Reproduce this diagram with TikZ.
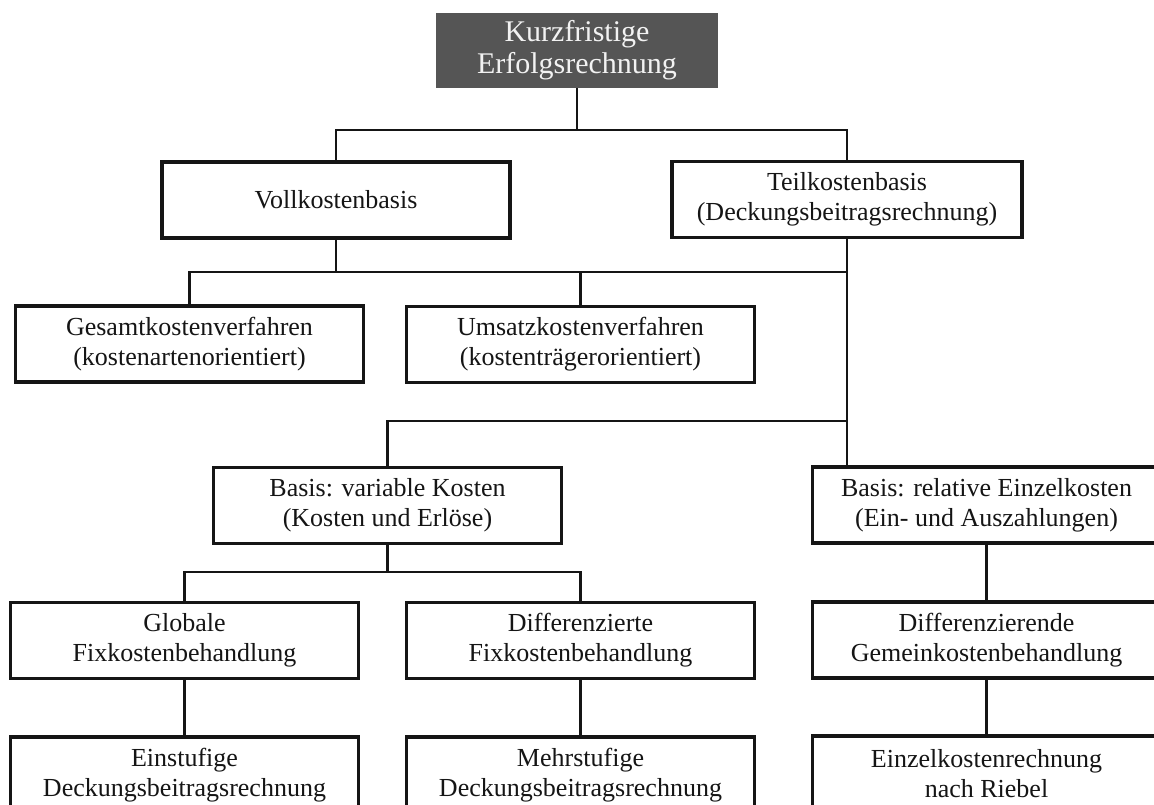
\documentclass[tikz,border=0pt]{standalone}
\usepackage{fontspec}
\setmainfont{Liberation Serif}
\definecolor{headfill}{HTML}{555555}
\definecolor{headtext}{HTML}{F2F2F2}
\definecolor{ink}{HTML}{151515}
\begin{document}
\begin{tikzpicture}[x=1pt,y=-1pt,
  box/.style={draw=ink, line width=3.4pt, fill=white, minimum width=348pt,
    minimum height=76pt, inner sep=0pt, align=center, text=ink,
    font=\fontsize{26}{30}\selectfont},
  headbox/.style={fill=headfill, minimum width=282pt, minimum height=75pt,
    inner sep=0pt, align=center, text=headtext,
    font=\fontsize{30}{32}\selectfont},
  conn/.style={draw=ink, line width=2.2pt}]
\fill[white] (0,0) rectangle (1154,805);
\useasboundingbox (0,0) rectangle (1154,805);
\clip (0,0) rectangle (1154,805);

% tree levels
\node[headbox] (top) at (577,50.5) {Kurzfristige\\Erfolgsrechnung};

\node[box] (voll) at (336,200) {Vollkostenbasis};
\node[box, minimum width=350pt] (teil) at (847,199.5) {Teilkostenbasis\\(Deckungsbeitragsrechnung)};

\node[box] (gesamt) at (189.5,344) {Gesamtkostenverfahren\\(kostenartenorientiert)};
\node[box] (umsatz) at (580.5,344.5) {Umsatzkostenverfahren\\(kostenträgerorientiert)};

\node[box] (var) at (387.5,505.5) {Basis: variable Kosten\\(Kosten und Erlöse)};
\node[box] (rel) at (986.5,505) {Basis: relative Einzelkosten\\(Ein- und Auszahlungen)};

\node[box] (glob) at (184.5,640.5) {Globale\\Fixkostenbehandlung};
\node[box] (diff) at (580.5,640.5) {Differenzierte\\Fixkostenbehandlung};
\node[box] (gemein) at (986.5,640) {Differenzierende\\Gemeinkostenbehandlung};

\node[box] (einst) at (184.5,775) {Einstufige\\Deckungsbeitragsrechnung};
\node[box] (mehr) at (580.5,775) {Mehrstufige\\Deckungsbeitragsrechnung};
\node[box] (riebel) at (986.5,774) {Einzelkostenrechnung\\nach Riebel};

% junction heights of the horizontal bars
\coordinate (j1) at (0,130);
\coordinate (j2) at (0,272);
\coordinate (j3) at (0,421);
\coordinate (j4) at (0,572);

% connectors
\draw[conn] (top.south) -- (top.south |- j1);
\draw[conn] (voll.north) -- (voll.north |- j1) -- (teil.north |- j1) -- (teil.north);

\draw[conn] (voll.south) -- (voll.south |- j2);
\draw[conn] (gesamt.north) -- (gesamt.north |- j2) -- (teil.south |- j2);
\draw[conn] (umsatz.north) -- (umsatz.north |- j2);

\draw[conn] (teil.south) -- (teil.south |- rel.north);
\draw[conn] (var.north) -- (var.north |- j3) -- (teil.south |- j3);

\draw[conn] (var.south) -- (var.south |- j4);
\draw[conn] (glob.north) -- (glob.north |- j4) -- (diff.north |- j4) -- (diff.north);

\draw[conn] (rel.south) -- (gemein.north);
\draw[conn] (glob.south) -- (einst.north);
\draw[conn] (diff.south) -- (mehr.north);
\draw[conn] (gemein.south) -- (riebel.north);
\end{tikzpicture}
\end{document}
